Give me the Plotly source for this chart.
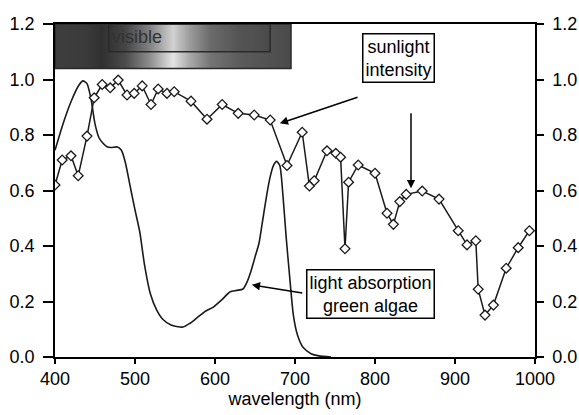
import base64
import plotly.graph_objects as go

# ---- data ----
absorb_nm = [400, 410, 420, 430, 435, 440, 445, 450, 455, 460, 465, 470, 478, 483, 488, 495, 500,
             506, 512, 519, 527, 535, 545, 552, 560, 568, 577, 588, 598, 608, 619, 627, 635, 640,
             645, 650, 655, 660, 665, 669, 673, 677, 681, 685, 689, 693, 698, 703, 710, 720, 730, 745]
absorb_val = [0.745, 0.84, 0.92, 0.98, 0.995, 0.985, 0.93, 0.84, 0.79, 0.77, 0.758, 0.755, 0.757,
              0.745, 0.70, 0.60, 0.53, 0.45, 0.33, 0.23, 0.17, 0.135, 0.115, 0.11, 0.108, 0.12,
              0.14, 0.165, 0.18, 0.205, 0.235, 0.24, 0.245, 0.27, 0.31, 0.36, 0.41, 0.50, 0.59,
              0.65, 0.69, 0.705, 0.69, 0.58, 0.43, 0.30, 0.15, 0.08, 0.035, 0.012, 0.004, 0.0]

sun_nm = [400, 409, 420, 429, 440, 449, 459, 469, 479, 490, 499, 509, 520, 529, 540, 549, 570, 590,
          609, 629, 649, 669, 690, 709, 718, 724, 740, 751, 757, 762.5, 767, 779, 800, 815, 823,
          831, 839, 859, 880, 904, 915, 926, 929, 937.5, 948, 964, 979, 993]
sun_val = [0.62, 0.71, 0.725, 0.653, 0.796, 0.934, 0.982, 0.97, 0.998, 0.944, 0.95, 0.977, 0.91,
           0.966, 0.95, 0.956, 0.922, 0.857, 0.91, 0.878, 0.872, 0.854, 0.69, 0.81, 0.616, 0.635,
           0.743, 0.734, 0.72, 0.39, 0.63, 0.692, 0.662, 0.518, 0.478, 0.56, 0.586, 0.598, 0.569,
           0.455, 0.404, 0.419, 0.244, 0.151, 0.187, 0.32, 0.394, 0.455]

x_ticks = [400, 500, 600, 700, 800, 900, 1000]
y_ticks = [0.0, 0.2, 0.4, 0.6, 0.8, 1.0, 1.2]

# visible-spectrum gradient band (offset fraction, grey colour)
grad_stops = [(0.0, "#3e3e3e"), (0.14, "#3a3a3a"), (0.2, "#303030"), (0.3, "#4c4c4c"),
              (0.4, "#8c8c8c"), (0.5, "#e4e4e4"), (0.57, "#aaaaaa"), (0.66, "#747474"),
              (0.78, "#5c5c5c"), (0.9, "#525252"), (1.0, "#4a4a4a")]

FONT = "Liberation Sans, Arial, sans-serif"

stops = "".join(f'<stop offset="{o}" stop-color="{c}"/>' for o, c in grad_stops)
svg = ('<svg xmlns="http://www.w3.org/2000/svg" width="300" height="40" preserveAspectRatio="none">'
       '<defs><linearGradient id="g" x1="0" x2="1" y1="0" y2="0">' + stops +
       '</linearGradient></defs><rect x="0" y="0" width="300" height="40" fill="url(#g)"/></svg>')
svg_uri = "data:image/svg+xml;base64," + base64.b64encode(svg.encode()).decode()

fig = go.Figure()

fig.add_trace(go.Scatter(x=absorb_nm, y=absorb_val, mode="lines",
                         line=dict(color="#1a1a1a", width=1.6, shape="spline", smoothing=0.6),
                         hoverinfo="skip", showlegend=False))
fig.add_trace(go.Scatter(x=sun_nm, y=sun_val, mode="lines+markers",
                         line=dict(color="#1a1a1a", width=1.5),
                         marker=dict(symbol="diamond", size=7.5, color="white",
                                     line=dict(color="#1a1a1a", width=1.3)),
                         hoverinfo="skip", showlegend=False))
# dummy trace to activate right axis
fig.add_trace(go.Scatter(x=[400], y=[0], yaxis="y2", mode="markers", marker=dict(opacity=0),
                         hoverinfo="skip", showlegend=False))

fig.add_layout_image(dict(source=svg_uri, xref="x", yref="y", x=400, y=1.2, sizex=295, sizey=0.16,
                          sizing="stretch", xanchor="left", yanchor="top", layer="above"))

fig.add_shape(type="rect", x0=400, x1=695, y0=1.04, y1=1.2, line=dict(color="#2a2a2a", width=1.5),
              layer="above")
fig.add_shape(type="rect", x0=467, x1=669, y0=1.1, y1=1.2, line=dict(color="#2a2a2a", width=1.5),
              fillcolor="rgba(0,0,0,0.08)", layer="above")

annos = [
    dict(x=469, y=1.152, text="visible", showarrow=False, xanchor="left", yanchor="middle",
         font=dict(size=18, color="#333333", family=FONT)),
    dict(x=829, y=1.079, text="sunlight<br>intensity", showarrow=False,
         font=dict(size=18, color="black", family=FONT), bordercolor="black", borderwidth=1.5,
         borderpad=2, bgcolor="white"),
    dict(x=794, y=0.228, text="light absorption<br>green algae", showarrow=False,
         font=dict(size=18, color="black", family=FONT), bordercolor="black", borderwidth=1.5,
         borderpad=2, bgcolor="white"),
    dict(x=681, y=0.842, ax=780, ay=0.938, axref="x", ayref="y", text="", showarrow=True,
         arrowhead=2, arrowsize=1.1, arrowwidth=1.5, arrowcolor="black"),
    dict(x=845, y=0.608, ax=845, ay=0.884, axref="x", ayref="y", text="", showarrow=True,
         arrowhead=2, arrowsize=1.1, arrowwidth=1.5, arrowcolor="black"),
    dict(x=646, y=0.26, ax=711, ay=0.23, axref="x", ayref="y", text="", showarrow=True,
         arrowhead=2, arrowsize=1.1, arrowwidth=1.5, arrowcolor="black"),
]

axis_common = dict(showline=True, linecolor="black", linewidth=1.5, ticks="outside",
                   tickcolor="black", tickwidth=1.5, showgrid=False, zeroline=False,
                   automargin=False,
                   tickfont=dict(size=18, color="black", family=FONT))

fig.update_layout(
    width=579, height=415,
    margin=dict(l=55, r=44, t=24, b=58, autoexpand=False),
    paper_bgcolor="white", plot_bgcolor="white",
    annotations=annos,
    xaxis=dict(range=[400, 1000], tickvals=x_ticks, ticklen=5, mirror=True,
               title=dict(text="wavelength (nm)", font=dict(size=18, color="black", family=FONT),
                          standoff=0),
               **axis_common),
    yaxis=dict(range=[0, 1.2], tickvals=y_ticks, tickformat=".1f", ticklen=10,
               ticklabelstandoff=5, **axis_common),
    yaxis2=dict(range=[0, 1.2], tickvals=y_ticks, tickformat=".1f", ticklen=7, overlaying="y",
                side="right", ticklabelstandoff=5, **axis_common),
)

fig.write_html("out.html", config={"displayModeBar": False},
               post_script="document.body.style.margin='0';")
